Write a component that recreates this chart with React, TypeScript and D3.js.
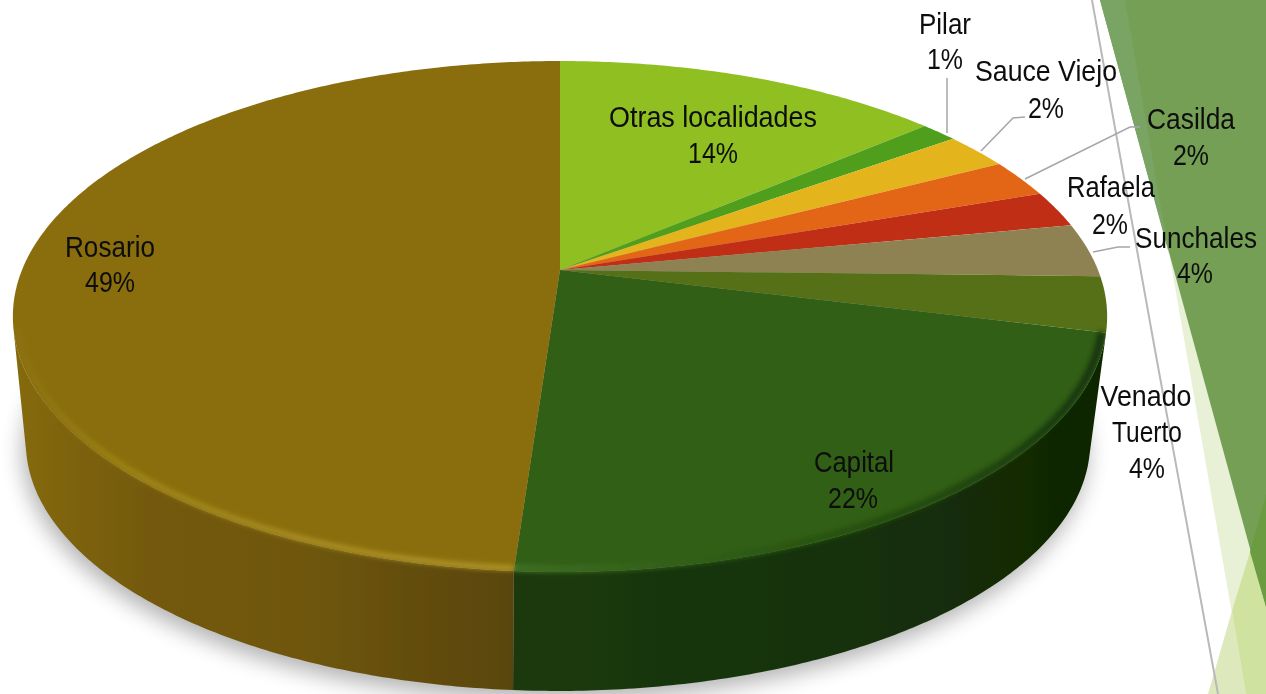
import React from "react";
import * as d3 from "d3";

// ---- data ----
const categories = ["Otras localidades", "Pilar", "Sauce Viejo", "Casilda", "Rafaela", "Sunchales", "Venado Tuerto", "Capital", "Rosario"];
const shares = [13.7, 1.3, 2.3, 2.4, 2.3, 3.4, 3.5, 22.22, 48.88];
const percentLabels = ["14%", "1%", "2%", "2%", "2%", "4%", "4%", "22%", "49%"];
const topColors = ["#90bf24", "#4f9f1c", "#e3b41d", "#e36615", "#c12e15", "#8e8253", "#557016", "#305f12", "#8a6e0e"];

// ---- layout ----
const W = 1266, H = 694;
const persp = { apexX: 560, apexY: 270, k: 538, m: 247, p: 0.182 };
const base = { x0: 560, y0: 316, cx: 558, cy: 442, s: 0.9726 };

type Line = { text: string; x: number; y: number; width: number };
const labelLines: Line[][] = [
  [{ text: "Otras  localidades", x: 713, y: 117, width: 208 }, { text: percentLabels[0], x: 713, y: 153, width: 50 }],
  [{ text: "Pilar", x: 945, y: 24, width: 52 }, { text: percentLabels[1], x: 945, y: 59, width: 36 }],
  [{ text: "Sauce Viejo", x: 1046, y: 71, width: 142 }, { text: percentLabels[2], x: 1046, y: 108, width: 36 }],
  [{ text: "Casilda", x: 1191, y: 119, width: 88 }, { text: percentLabels[3], x: 1191, y: 155, width: 36 }],
  [{ text: "Rafaela", x: 1111, y: 187, width: 88 }, { text: percentLabels[4], x: 1110, y: 224, width: 36 }],
  [{ text: "Sunchales", x: 1196, y: 238, width: 122 }, { text: percentLabels[5], x: 1195, y: 273, width: 36 }],
  [{ text: "Venado", x: 1146, y: 396, width: 91 }, { text: "Tuerto", x: 1147, y: 432, width: 70 }, { text: percentLabels[6], x: 1147, y: 468, width: 36 }],
  [{ text: "Capital", x: 854, y: 462, width: 80 }, { text: percentLabels[7], x: 853, y: 498, width: 50 }],
  [{ text: "Rosario", x: 110, y: 247, width: 90 }, { text: percentLabels[8], x: 110, y: 282, width: 50 }],
];

const leaders = [
  [[947, 78], [947, 133]],
  [[1025, 117], [1013, 118], [981, 151]],
  [[1140, 127], [1130, 127], [1025, 179]],
  [[1130, 247], [1118, 247], [1093, 252]],
];

const wallStops: Record<string, [string, string][]> = {
  Capital: [["514", "#1b390b"], ["800", "#173309"], ["1100", "#102605"]],
  Rosario: [["20", "#85690e"], ["150", "#73590c"], ["300", "#6f570e"], ["514", "#594509"]],
};
const rimStops: Record<string, [string, string][]> = {
  Capital: [["514", "#3f7026"], ["760", "#2b5812"], ["960", "#1f440c"], ["1108", "#12300a"]],
  Rosario: [["13", "#8a7012"], ["120", "#a08718"], ["300", "#ae9226"], ["514", "#b2962c"]],
};

const decor: { points: [number, number][]; fill: string }[] = [
  { points: [[1125, 0], [1266, 0], [1266, 694], [1246, 694]], fill: "#e8f0d6" },
  { points: [[1100, 0], [1266, 0], [1266, 607]], fill: "#749f55" },
  { points: [[1100, 0], [1125, 0], [1169, 254]], fill: "#7aa464" },
  { points: [[1208, 694], [1232, 611], [1246, 694]], fill: "#dde9bc" },
  { points: [[1232, 611], [1250, 552], [1266, 607], [1266, 694], [1246, 694]], fill: "#d0e2a0" },
  { points: [[1250, 552], [1266, 494], [1266, 607]], fill: "#6c9c41" },
];

// ---- projection ----
function topPoint(theta: number, r = 1): [number, number] {
  const u = r * Math.sin(theta), v = -r * Math.cos(theta);
  const w = 1 - persp.p * v;
  return [persp.apexX + (persp.k * u) / w, persp.apexY + (persp.m * v) / w];
}
function basePoint(theta: number): [number, number] {
  const [x, y] = topPoint(theta);
  return [base.cx + base.s * (x - base.x0), base.cy + base.s * (y - base.y0)];
}
const arcAngles = (a: number, b: number) => {
  const n = Math.max(2, Math.ceil(Math.abs(b - a) / 0.01));
  return d3.range(n + 1).map((i) => a + ((b - a) * i) / n);
};
const lineGen = d3.line<[number, number]>().x((d) => d[0]).y((d) => d[1]);

const pieGen = d3.pie<number>().sort(null).value((d) => d);
const slices = pieGen(shares).map((s, i) => ({ ...s, name: categories[i], color: topColors[i] }));

const apex: [number, number] = [persp.apexX, persp.apexY];
const topPath = (a: number, b: number) => lineGen([apex, ...arcAngles(a, b).map((t) => topPoint(t))]) + "Z";
const wallPath = (a: number, b: number) =>
  lineGen([...arcAngles(a, b).map((t) => topPoint(t)), ...arcAngles(b, a).map(basePoint)]) + "Z";

const LEFT_LIMIT = (257 * Math.PI) / 180;
const wallSlices = slices
  .filter((s) => wallStops[s.name])
  .map((s) => ({ ...s, wallEnd: Math.min(s.endAngle, LEFT_LIMIT) }));

const fullBase = lineGen(arcAngles(0, 2 * Math.PI).map(basePoint)) + "Z";
const fullTop = lineGen(arcAngles(0, 2 * Math.PI).map((t) => topPoint(t))) + "Z";

export default function App() {
  return (
    <svg
      width={W}
      height={H}
      viewBox={`0 0 ${W} ${H}`}
      style={{ position: "fixed", left: 0, top: 0, background: "#fff" }}
      fontFamily="'Liberation Sans', Arial, sans-serif"
    >
      <defs>
        <filter id="shadow" x="-10%" y="-10%" width="120%" height="120%">
          <feGaussianBlur stdDeviation="11" />
        </filter>
        <filter id="soft" x="-5%" y="-5%" width="110%" height="110%">
          <feGaussianBlur stdDeviation="0.7" />
        </filter>
        <filter id="bevel" x="-5%" y="-5%" width="110%" height="110%">
          <feGaussianBlur stdDeviation="2.4" />
        </filter>
        <filter id="txt" x="-5%" y="-5%" width="110%" height="110%">
          <feGaussianBlur stdDeviation="0.35" />
        </filter>
        {wallSlices.map((s) => (
          <linearGradient key={s.name} id={`wall-${s.name}`} gradientUnits="userSpaceOnUse" x1={0} x2={W} y1={0} y2={0}>
            {wallStops[s.name].map(([o, c]) => (
              <stop key={o} offset={+o / W} stopColor={c} />
            ))}
          </linearGradient>
        ))}
        {wallSlices.map((s) => (
          <linearGradient key={s.name} id={`rim-${s.name}`} gradientUnits="userSpaceOnUse" x1={0} x2={W} y1={0} y2={0}>
            {rimStops[s.name].map(([o, c]) => (
              <stop key={o} offset={+o / W} stopColor={c} />
            ))}
          </linearGradient>
        ))}
        <clipPath id="body">
          <path d={fullTop} />
          {wallSlices.map((s) => (
            <path key={s.name} d={wallPath(s.startAngle, s.wallEnd)} />
          ))}
        </clipPath>
      </defs>

      {decor.map((d, i) => (
        <polygon key={i} points={d.points.map((p) => p.join(",")).join(" ")} fill={d.fill} />
      ))}
      <path d="M1092,0 L1155,350 L1218,694" fill="none" stroke="#b9b9b9" strokeWidth={2} />

      <path d={fullBase} transform="translate(-3,9)" fill="#000" opacity={0.3} filter="url(#shadow)" />

      <g filter="url(#soft)">
        {wallSlices.map((s) => (
          <path key={s.name} d={wallPath(s.startAngle, s.wallEnd)} fill={`url(#wall-${s.name})`} />
        ))}
        {slices.map((s) => (
          <path key={s.name} d={topPath(s.startAngle, s.endAngle)} fill={s.color} />
        ))}
      </g>

      <g clipPath="url(#body)">
        {wallSlices.map((s) => (
          <path
            key={s.name}
            d={lineGen(arcAngles(s.startAngle, s.wallEnd).map((t) => topPoint(t, 0.992))) as string}
            fill="none"
            stroke={`url(#rim-${s.name})`}
            strokeWidth={s.name === "Capital" ? 7 : 5}
            filter="url(#bevel)"
          />
        ))}
      </g>

      {leaders.map((l, i) => (
        <path key={i} d={lineGen(l as [number, number][]) as string} fill="none" stroke="#a6a6a6" strokeWidth={1.5} />
      ))}

      <g filter="url(#txt)" fontSize={29} fill="#0c0c0c" textAnchor="middle">
        {labelLines.flat().map((l, i) => (
          <text
            key={i}
            x={l.x}
            y={l.y + 10}
            textLength={l.width}
            lengthAdjust="spacingAndGlyphs"
          >
            {l.text}
          </text>
        ))}
      </g>
    </svg>
  );
}
